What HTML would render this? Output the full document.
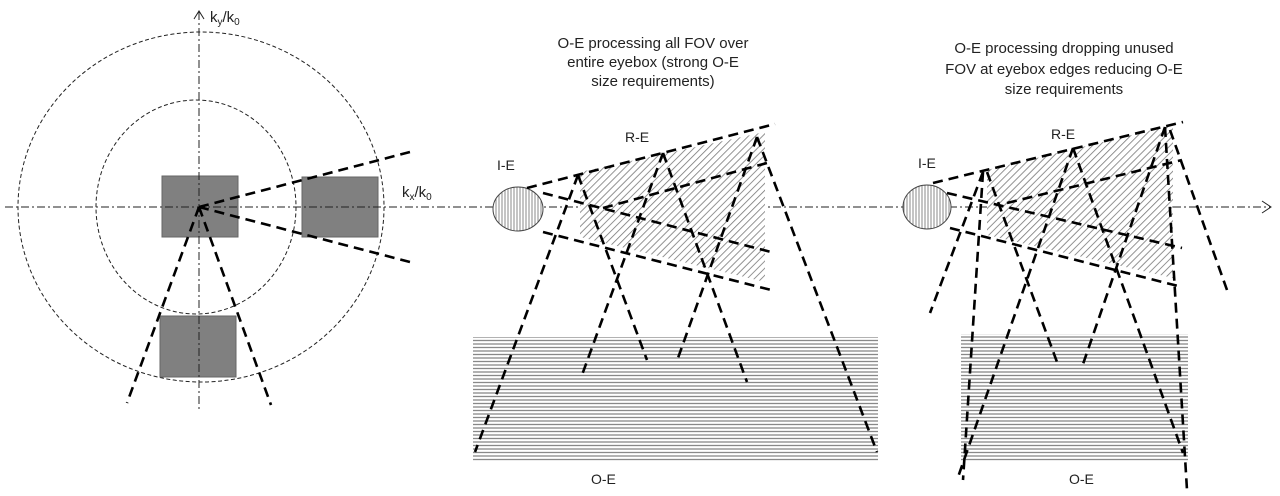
<!DOCTYPE html>
<html><head><meta charset="utf-8"><style>
html,body{margin:0;padding:0;background:#fff;}
svg{display:block;}
text{font-family:"Liberation Sans",sans-serif;fill:#222;}
</style></head><body>
<svg width="1280" height="496" viewBox="0 0 1280 496" xmlns="http://www.w3.org/2000/svg">
<defs>
<pattern id="diag" width="5" height="5" patternUnits="userSpaceOnUse" patternTransform="rotate(45)">
<rect width="5" height="5" fill="#fff"/><line x1="0" y1="0" x2="0" y2="5" stroke="#777" stroke-width="1.6"/></pattern>
<pattern id="horiz" width="4" height="3.5" patternUnits="userSpaceOnUse">
<rect width="4" height="3.5" fill="#fff"/><line x1="0" y1="1" x2="4" y2="1" stroke="#888" stroke-width="1.3"/></pattern>
<pattern id="vert" width="3" height="4" patternUnits="userSpaceOnUse">
<rect width="3" height="4" fill="#fff"/><line x1="1" y1="0" x2="1" y2="4" stroke="#888" stroke-width="1"/></pattern>
</defs>

<!-- axes -->
<line x1="5" y1="207" x2="1270" y2="207" stroke="#222" stroke-width="1" stroke-dasharray="8,3,2,3"/>
<polyline points="1262,201 1271,207 1262,213" fill="none" stroke="#222" stroke-width="1"/>
<line x1="199" y1="12" x2="199" y2="410" stroke="#222" stroke-width="1" stroke-dasharray="8,3,2,3"/>
<polyline points="194,19 199,11 204,19" fill="none" stroke="#222" stroke-width="1"/>
<text x="210" y="22" font-size="15">k<tspan font-size="10" dy="3">y</tspan><tspan dy="-3">/k</tspan><tspan font-size="10" dy="3">0</tspan></text>
<text x="402" y="197" font-size="15">k<tspan font-size="10" dy="3">x</tspan><tspan dy="-3">/k</tspan><tspan font-size="10" dy="3">0</tspan></text>

<!-- circles -->
<ellipse cx="201" cy="207" rx="183" ry="175" fill="none" stroke="#222" stroke-width="1" stroke-dasharray="4,2.5"/>
<ellipse cx="196" cy="207" rx="100" ry="107" fill="none" stroke="#222" stroke-width="1" stroke-dasharray="4,2.5"/>

<!-- squares -->
<rect x="162" y="176" width="76" height="61" fill="#808080" stroke="#666" stroke-width="1"/>
<rect x="302" y="177" width="76" height="60" fill="#808080" stroke="#666" stroke-width="1"/>
<rect x="160" y="316" width="76" height="61" fill="#808080" stroke="#666" stroke-width="1"/>
<line x1="5" y1="207" x2="400" y2="207" stroke="#222" stroke-width="1" stroke-dasharray="8,3,2,3"/>
<line x1="199" y1="12" x2="199" y2="410" stroke="#222" stroke-width="1" stroke-dasharray="8,3,2,3"/>

<g stroke="#000" stroke-width="2.6" stroke-dasharray="10,6" fill="none">
<line x1="199" y1="207" x2="410" y2="152"/>
<line x1="199" y1="207" x2="410" y2="262"/>
<line x1="199" y1="207" x2="127" y2="403"/>
<line x1="199" y1="207" x2="271" y2="405"/>
</g>

<!-- middle panel -->
<text font-size="15" text-anchor="middle"><tspan x="653" y="48">O-E processing all FOV over</tspan><tspan x="653" y="67">entire eyebox (strong O-E</tspan><tspan x="653" y="86">size requirements)</tspan></text>
<polygon points="580,172 765,132 765,282 580,237" fill="url(#diag)"/>
<rect x="473" y="337" width="405" height="125" fill="url(#horiz)"/>
<ellipse cx="518" cy="209" rx="25" ry="22" fill="url(#vert)" stroke="#444" stroke-width="1"/>
<text x="497" y="170" font-size="14">I-E</text>
<text x="625" y="142" font-size="14">R-E</text>
<text x="591" y="484" font-size="14">O-E</text>
<g stroke="#000" stroke-width="2.6" stroke-dasharray="10,6" fill="none">
<line x1="527" y1="188" x2="775" y2="124"/>
<line x1="603" y1="208" x2="767" y2="163"/>
<line x1="543" y1="193" x2="775" y2="253"/>
<line x1="543" y1="232" x2="775" y2="291"/>
<line x1="578" y1="175" x2="475" y2="452"/>
<line x1="578" y1="175" x2="647" y2="360"/>
<line x1="663" y1="153" x2="582" y2="375"/>
<line x1="663" y1="153" x2="747" y2="382"/>
<line x1="757" y1="137" x2="678" y2="358"/>
<line x1="757" y1="137" x2="877" y2="452"/>
</g>

<!-- right panel -->
<text font-size="15" text-anchor="middle"><tspan x="1064" y="53">O-E processing dropping unused</tspan><tspan x="1064" y="74">FOV at eyebox edges reducing O-E</tspan><tspan x="1064" y="94">size requirements</tspan></text>
<polygon points="987,170 1173,125 1173,278 987,235" fill="url(#diag)"/>
<rect x="961" y="334" width="227" height="127" fill="url(#horiz)"/>
<ellipse cx="927" cy="207" rx="24" ry="22" fill="url(#vert)" stroke="#444" stroke-width="1"/>
<text x="918" y="168" font-size="14">I-E</text>
<text x="1051" y="139" font-size="14">R-E</text>
<text x="1069" y="484" font-size="14">O-E</text>
<g stroke="#000" stroke-width="2.6" stroke-dasharray="10,6" fill="none">
<line x1="933" y1="183" x2="1183" y2="122"/>
<line x1="1007" y1="203" x2="1182" y2="160"/>
<line x1="947" y1="193" x2="1182" y2="248"/>
<line x1="950" y1="228" x2="1182" y2="287"/>
<line x1="983" y1="172" x2="930" y2="313"/>
<line x1="983" y1="172" x2="963" y2="480"/>
<line x1="987" y1="172" x2="1057" y2="362"/>
<line x1="1073" y1="148" x2="957" y2="480"/>
<line x1="1073" y1="148" x2="1183" y2="453"/>
<line x1="1165" y1="127" x2="1082" y2="367"/>
<line x1="1165" y1="127" x2="1187" y2="490"/>
<line x1="1170" y1="130" x2="1227" y2="290"/>
</g>
</svg>
</body></html>
